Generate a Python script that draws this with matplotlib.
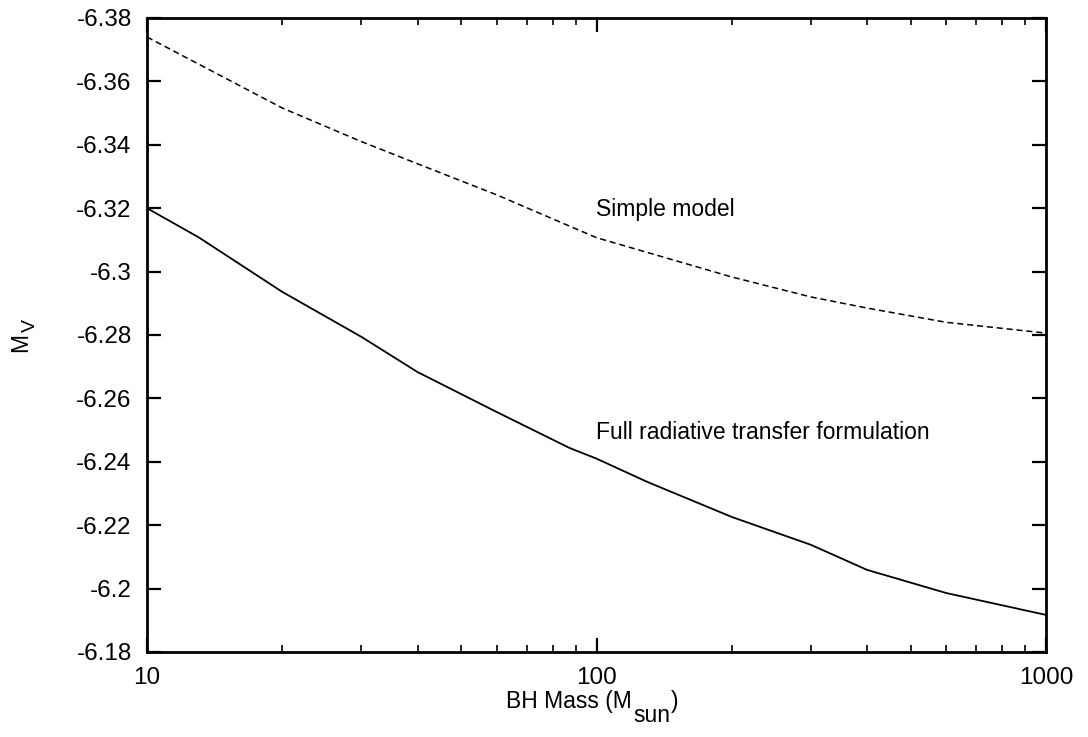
import matplotlib
matplotlib.use("Agg")
import matplotlib.pyplot as plt
from matplotlib.ticker import FixedLocator, FuncFormatter, LogLocator, NullFormatter

plt.rcParams['font.family'] = ['Liberation Sans', 'DejaVu Sans']

# Data
mass_full = [10, 13, 20, 30, 40, 60, 87, 100, 130, 200, 300, 400, 600, 1000]
mv_full = [-6.320, -6.3109, -6.2936, -6.2794, -6.2683, -6.2557, -6.2444,
           -6.2410, -6.2336, -6.2226, -6.2138, -6.2059, -6.1986, -6.1917]
mass_simple = [10, 20, 30, 40, 60, 100, 200, 300, 400, 600, 1000]
mv_simple = [-6.374, -6.3516, -6.341, -6.334, -6.3242, -6.3107, -6.2983,
             -6.292, -6.2885, -6.284, -6.2806]
yticks = [-6.38, -6.36, -6.34, -6.32, -6.30, -6.28, -6.26, -6.24, -6.22, -6.20, -6.18]
xticks = [10, 100, 1000]
label_simple = 'Simple model'
label_full = 'Full radiative transfer formulation'

W, H = 1088, 737
FS = 16.5
fig = plt.figure(figsize=(W / 100, H / 100), dpi=100)
ax = fig.add_axes([147 / W, 1 - 652 / H, (1046 - 147) / W, (652 - 18) / H])

ax.plot(mass_simple, mv_simple, color='black', lw=1.1, dashes=(4, 2.5))
ax.plot(mass_full, mv_full, color='black', lw=1.3)

ax.set_xscale('log')
ax.set_xlim(10, 1000)
ax.set_ylim(-6.18, -6.38)

ax.xaxis.set_major_locator(FixedLocator(xticks))
ax.xaxis.set_major_formatter(FuncFormatter(lambda v, p: f"{v:g}"))
ax.xaxis.set_minor_locator(LogLocator(base=10, subs=range(2, 10)))
ax.xaxis.set_minor_formatter(NullFormatter())
ax.yaxis.set_major_locator(FixedLocator(yticks))
ax.yaxis.set_major_formatter(FuncFormatter(lambda v, p: f"{v:g}"))

ax.tick_params(which='major', direction='in', length=10, width=1.6,
               top=True, right=True, labelsize=17.5, pad=11, colors='black')
ax.tick_params(which='minor', direction='in', length=5, width=1.2,
               top=True, right=True)
for s in ax.spines.values():
    s.set_linewidth(2)

ax.text(100, -6.3175, label_simple, fontsize=FS, ha='left', va='baseline')
ax.text(100, -6.2472, label_full, fontsize=FS, ha='left', va='baseline')

renderer = fig.canvas.get_renderer()
def px(x, y):
    return x / W, 1 - y / H

# X label with full-size lowered subscript
fig.text(*px(632, 708), 'BH Mass (M', fontsize=FS, ha='right', va='baseline')
t2 = fig.text(*px(633, 722), 'sun', fontsize=FS, ha='left', va='baseline')
bb = t2.get_window_extent(renderer)
fig.text(bb.x1 / W + 1 / W, 1 - 708 / H, ')', fontsize=FS, ha='left', va='baseline')

# Y label: M with subscript V, rotated, centred on the axis height
m = fig.text(*px(27, 352), 'M', fontsize=FS, rotation=90, ha='left', va='baseline',
             rotation_mode='anchor')
mb = m.get_window_extent(renderer)
fig.text(35 / W, (mb.y1 + 1) / H, 'V', fontsize=FS * 0.85, rotation=90,
         ha='left', va='baseline', rotation_mode='anchor')

fig.savefig('out.png', dpi=100)
